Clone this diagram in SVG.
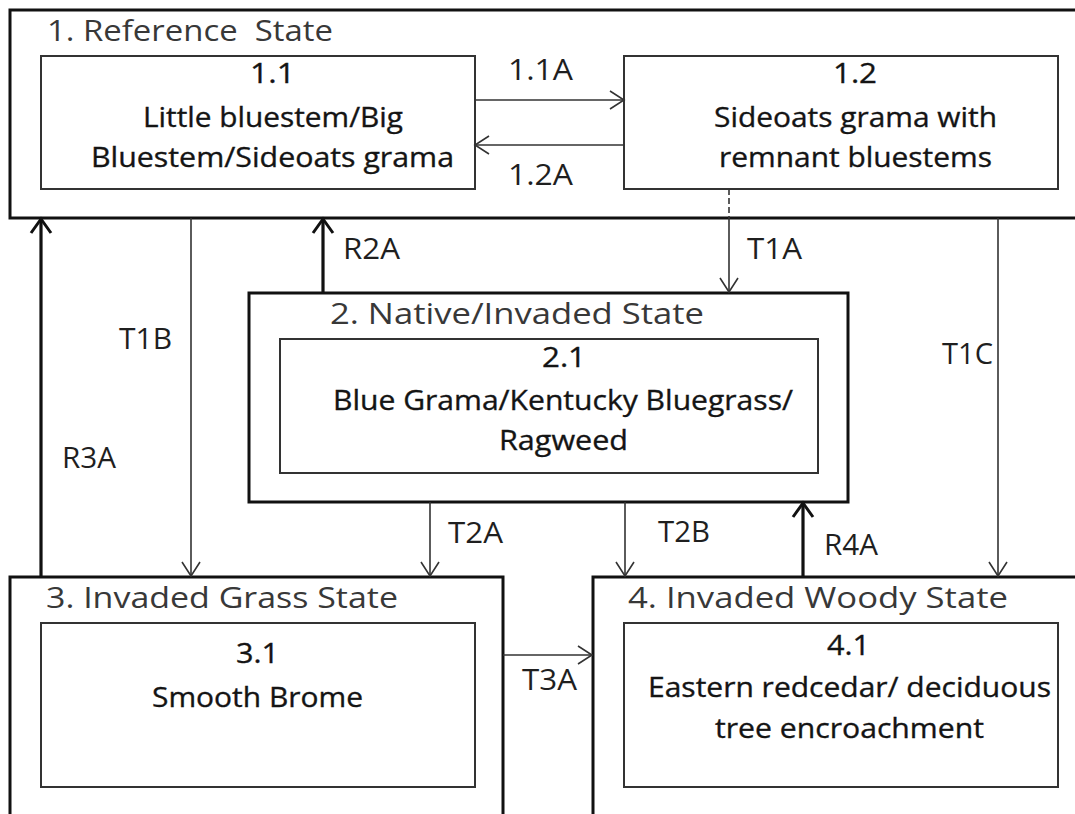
<svg xmlns="http://www.w3.org/2000/svg" width="1075" height="814" viewBox="0 0 1075 814">
<defs>
<style>
text{font-family:"Open Sans","Liberation Sans",sans-serif;}
.title{font-size:29px;fill:#383838;white-space:pre;}
.inner{font-size:28px;fill:#141414;font-weight:500;stroke:#141414;stroke-width:0.35;}
.lbl{font-size:29px;fill:#1f1f1f;}
.state{fill:none;stroke:#111;stroke-width:3;}
.comm{fill:none;stroke:#333;stroke-width:2;}
.thin{fill:none;stroke:#333;stroke-width:1.6;}
.thick{fill:none;stroke:#111;stroke-width:3.2;}
</style>
<marker id="ah" markerUnits="userSpaceOnUse" markerWidth="20" markerHeight="22" viewBox="0 0 20 22" refX="17" refY="11" orient="auto">
<path d="M3,2 L17,11 L3,20" fill="none" stroke="#333" stroke-width="1.6"/>
</marker>
<marker id="ahk" markerUnits="userSpaceOnUse" markerWidth="20" markerHeight="24" viewBox="0 0 20 24" refX="17" refY="12" orient="auto">
<path d="M3,2 L17,12 L3,22" fill="none" stroke="#111" stroke-width="3"/>
</marker>
</defs>
<rect width="1075" height="814" fill="#fff"/>

<g id="state1">
<rect class="state" x="10" y="10" width="1075" height="208"/>
<text class="title" x="47" y="41" textLength="286" lengthAdjust="spacingAndGlyphs">1. Reference  State</text>
</g>
<g id="node1-1">
<rect class="comm" x="41" y="56" width="434" height="133"/>
<text class="inner" x="250" y="83" textLength="45" lengthAdjust="spacingAndGlyphs">1.1</text>
<text class="inner" x="143" y="127" textLength="260" lengthAdjust="spacingAndGlyphs">Little bluestem/Big</text>
<text class="inner" x="91" y="167" textLength="363" lengthAdjust="spacingAndGlyphs">Bluestem/Sideoats grama</text>
</g>
<g id="node1-2">
<rect class="comm" x="624" y="56" width="434" height="133"/>
<text class="inner" x="833" y="83" textLength="44" lengthAdjust="spacingAndGlyphs">1.2</text>
<text class="inner" x="714" y="127" textLength="283" lengthAdjust="spacingAndGlyphs">Sideoats grama with</text>
<text class="inner" x="719" y="167" textLength="273" lengthAdjust="spacingAndGlyphs">remnant bluestems</text>
</g>

<g id="state2">
<rect class="state" x="249" y="293" width="599" height="209"/>
<text class="title" x="330" y="324" textLength="374" lengthAdjust="spacingAndGlyphs">2. Native/Invaded State</text>
</g>
<g id="node2-1">
<rect class="comm" x="280" y="339" width="538" height="134"/>
<text class="inner" x="542" y="367" textLength="44" lengthAdjust="spacingAndGlyphs">2.1</text>
<text class="inner" x="333" y="410" textLength="460" lengthAdjust="spacingAndGlyphs">Blue Grama/Kentucky Bluegrass/</text>
<text class="inner" x="499" y="450" textLength="129" lengthAdjust="spacingAndGlyphs">Ragweed</text>
</g>

<g id="state3">
<rect class="state" x="10" y="577" width="493" height="260"/>
<text class="title" x="46" y="608" textLength="352" lengthAdjust="spacingAndGlyphs">3. Invaded Grass State</text>
</g>
<g id="node3-1">
<rect class="comm" x="41" y="623" width="434" height="164"/>
<text class="inner" x="236" y="663" textLength="43" lengthAdjust="spacingAndGlyphs">3.1</text>
<text class="inner" x="152" y="707" textLength="211" lengthAdjust="spacingAndGlyphs">Smooth Brome</text>
</g>

<g id="state4">
<rect class="state" x="593" y="577" width="492" height="260"/>
<text class="title" x="628" y="608" textLength="380" lengthAdjust="spacingAndGlyphs">4. Invaded Woody State</text>
</g>
<g id="node4-1">
<rect class="comm" x="624" y="623" width="434" height="164"/>
<text class="inner" x="827" y="655" textLength="43" lengthAdjust="spacingAndGlyphs">4.1</text>
<text class="inner" x="648" y="697" textLength="403" lengthAdjust="spacingAndGlyphs">Eastern redcedar/ deciduous</text>
<text class="inner" x="715" y="738" textLength="269" lengthAdjust="spacingAndGlyphs">tree encroachment</text>
</g>

<g id="connectors">
<line class="thin" x1="475" y1="100" x2="624" y2="100" marker-end="url(#ah)"/>
<line class="thin" x1="624" y1="145" x2="475" y2="145" marker-end="url(#ah)"/>
<line class="thin" x1="729" y1="189" x2="729" y2="218" stroke-dasharray="6 3"/>
<line class="thin" x1="729" y1="218" x2="729" y2="292" marker-end="url(#ah)"/>
<line class="thin" x1="191" y1="218" x2="191" y2="576" marker-end="url(#ah)"/>
<line class="thin" x1="998" y1="218" x2="998" y2="576" marker-end="url(#ah)"/>
<line class="thin" x1="430" y1="502" x2="430" y2="576" marker-end="url(#ah)"/>
<line class="thin" x1="625" y1="502" x2="625" y2="576" marker-end="url(#ah)"/>
<line class="thin" x1="503" y1="655" x2="592" y2="655" marker-end="url(#ah)"/>
<line class="thick" x1="41" y1="577" x2="41" y2="219" marker-end="url(#ahk)"/>
<line class="thick" x1="323" y1="293" x2="323" y2="219" marker-end="url(#ahk)"/>
<line class="thick" x1="803" y1="577" x2="803" y2="503" marker-end="url(#ahk)"/>
<text class="lbl" x="508" y="80" textLength="65" lengthAdjust="spacingAndGlyphs">1.1A</text>
<text class="lbl" x="508" y="185" textLength="65" lengthAdjust="spacingAndGlyphs">1.2A</text>
<text class="lbl" x="343" y="259" textLength="57" lengthAdjust="spacingAndGlyphs">R2A</text>
<text class="lbl" x="747" y="259" textLength="55" lengthAdjust="spacingAndGlyphs">T1A</text>
<text class="lbl" x="119" y="349" textLength="53" lengthAdjust="spacingAndGlyphs">T1B</text>
<text class="lbl" x="942" y="364" textLength="51" lengthAdjust="spacingAndGlyphs">T1C</text>
<text class="lbl" x="62" y="468" textLength="54" lengthAdjust="spacingAndGlyphs">R3A</text>
<text class="lbl" x="448" y="543" textLength="55" lengthAdjust="spacingAndGlyphs">T2A</text>
<text class="lbl" x="658" y="542" textLength="52" lengthAdjust="spacingAndGlyphs">T2B</text>
<text class="lbl" x="824" y="555" textLength="54" lengthAdjust="spacingAndGlyphs">R4A</text>
<text class="lbl" x="522" y="690" textLength="55" lengthAdjust="spacingAndGlyphs">T3A</text>
</g>
</svg>
